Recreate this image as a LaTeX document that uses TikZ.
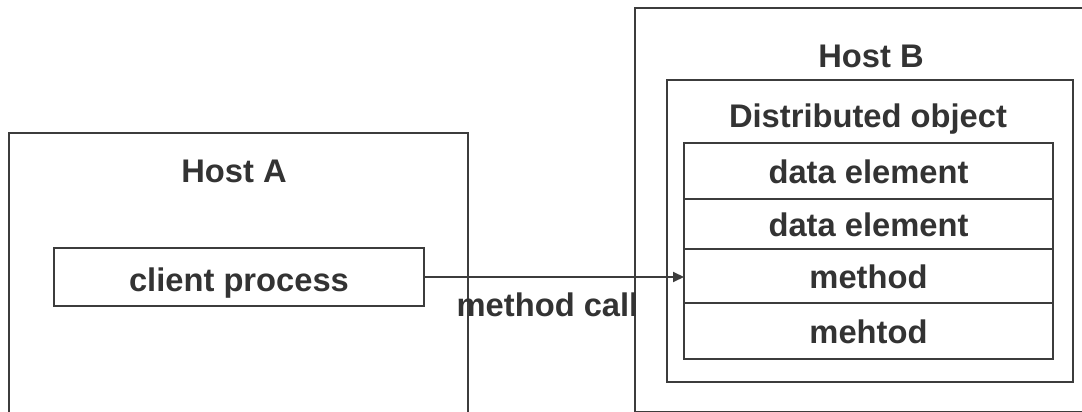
\documentclass[tikz,border=0pt]{standalone}
\usepackage{fontspec}
\setmainfont{Liberation Sans}
\usetikzlibrary{arrows.meta}
\definecolor{ink}{HTML}{333333}
\definecolor{edgecol}{HTML}{3C3C3C}
\begin{document}
\begin{tikzpicture}[x=1pt,y=-1pt,
  every node/.style={font=\fontsize{32.7}{39}\selectfont\bfseries, text=ink, inner sep=0pt, outer sep=0pt},
  thinbox/.style={draw=edgecol, line width=1.3pt, rectangle, anchor=north west},
  rowbox/.style={draw=edgecol, line width=2.4pt, rectangle, anchor=north west, minimum width=369pt, text height=24pt, text depth=0pt},
  lbl/.style={anchor=base}]
\useasboundingbox (0,0) rectangle (1082,412);
\clip (0,0) rectangle (1082,412);
% Host A
\node[thinbox, minimum width=459pt, minimum height=320pt] (hostA) at (9,133) {};
\node[lbl] (hostAlabel) at (234,182) {Host A};
\node[draw=edgecol, line width=2.4pt, rectangle, minimum width=370pt, minimum height=58pt, text height=28pt, text depth=0pt] (client) at (239,277) {client process};
% Host B
\node[thinbox, minimum width=460pt, minimum height=403.5pt] (hostB) at (635,8) {};
\node[lbl] (hostBlabel) at (871,68) {Host B};
\node[thinbox, minimum width=406pt, minimum height=302pt] (dobj) at (667,80) {};
\node[lbl] (dobjlabel) at (868,128) {Distributed object};
\node[rowbox, minimum height=56pt] (row1) at (684,143) {data element};
\node[rowbox, minimum height=50pt] (row2) at (684,199) {data element};
\node[rowbox, minimum height=54pt] (row3) at (684,249) {method};
\node[rowbox, minimum height=56pt] (row4) at (684,303) {mehtod};
% call
\draw[draw=edgecol, line width=2pt, -{Triangle[length=11pt,width=10pt]}] (client.east) -- (client.east -| row3.west);
\node[lbl] (mcall) at (547.5,316) {method call};
\end{tikzpicture}
\end{document}
